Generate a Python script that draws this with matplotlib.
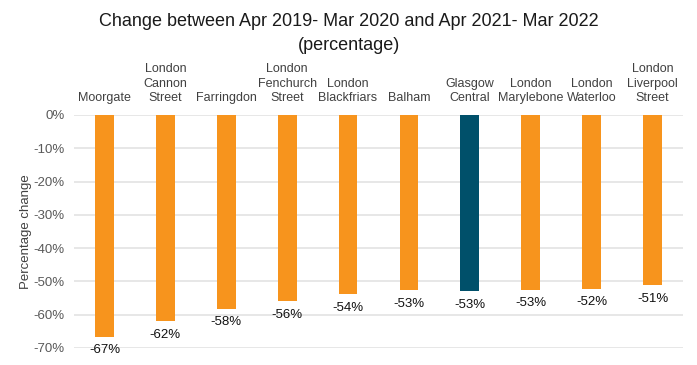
import matplotlib
matplotlib.use("Agg")
import matplotlib.pyplot as plt
from matplotlib.ticker import FuncFormatter

plt.rcParams['font.family'] = ['Liberation Sans', 'DejaVu Sans']

categories = ["Moorgate", "London\nCannon\nStreet", "Farringdon", "London\nFenchurch\nStreet",
              "London\nBlackfriars", "Balham", "Glasgow\nCentral", "London\nMarylebone",
              "London\nWaterloo", "London\nLiverpool\nStreet"]
values = [-66.6, -62.0, -58.2, -55.9, -53.8, -52.6, -53.0, -52.5, -52.2, -51.1]
labels = ["-67%", "-62%", "-58%", "-56%", "-54%", "-53%", "-53%", "-53%", "-52%", "-51%"]
highlight = "Glasgow\nCentral"

orange = "#F7941D"
teal = "#00506A"

fig = plt.figure(figsize=(6.97, 3.65), dpi=100)
ax = fig.add_axes([74/697, 1 - 348/365, 609/697, 233/365])

x = list(range(len(categories)))
colors = [teal if c == highlight else orange for c in categories]
bars = ax.bar(x, values, width=0.31, color=colors, zorder=3)

ax.set_xlim(-0.5, len(categories) - 0.5)
ax.set_ylim(-70, 0)
ax.set_yticks(range(-70, 1, 10))
ax.yaxis.set_major_formatter(FuncFormatter(lambda v, p: f"{int(round(v))}%"))
ax.grid(axis='y', color='#E3E3E3', linewidth=1.2, zorder=0)
for s in ax.spines.values():
    s.set_visible(False)
ax.tick_params(axis='y', length=0, labelsize=9.5, labelcolor='#595959', pad=7)

ax.xaxis.tick_top()
ax.set_xticks(x)
ax.set_xticklabels(categories, fontsize=9, color='#404040', linespacing=1.25)
ax.tick_params(axis='x', length=0, pad=8)

for xi, v, lab in zip(x, values, labels):
    ax.annotate(lab, (xi, v), xytext=(0, -5.5), textcoords='offset points',
                ha='center', va='top', fontsize=9.5, color='#111111', annotation_clip=False)

ax.set_ylabel("Percentage change", fontsize=9.5, color='#404040')
ax.yaxis.set_label_coords((32 - 74) / 609, 0.5)

fig.text(349/697, 1 - 22/365, "Change between Apr 2019- Mar 2020 and Apr 2021- Mar 2022",
         ha='center', va='center', fontsize=13, color='#1a1a1a')
fig.text(349/697, 1 - 45/365, "(percentage)", ha='center', va='center', fontsize=13, color='#1a1a1a')

fig.savefig("out.png", dpi=100)
